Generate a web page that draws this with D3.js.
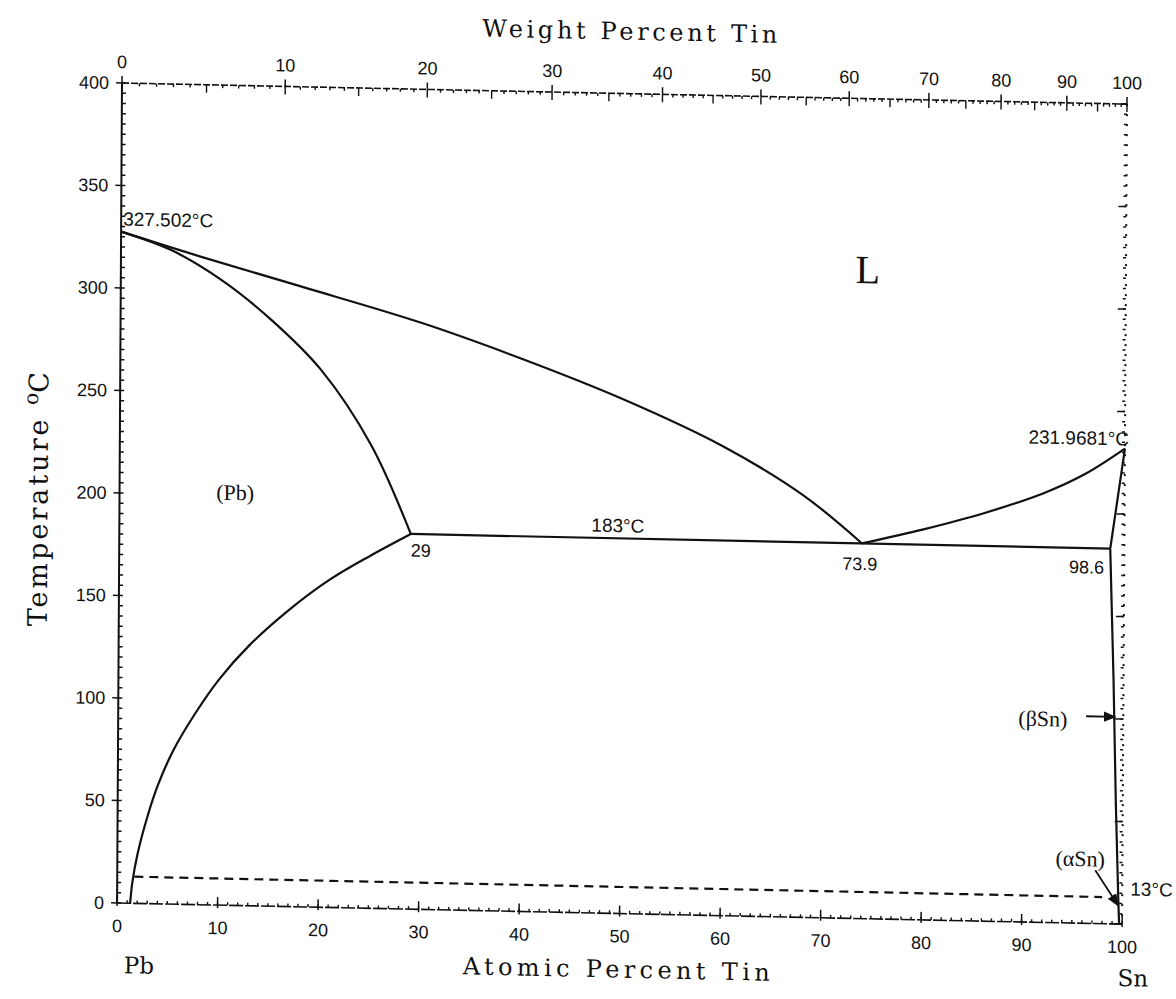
<!DOCTYPE html>
<html lang="en">
<head>
<meta charset="UTF-8">
<title>Pb-Sn Phase Diagram</title>
<script src="https://cdn.jsdelivr.net/npm/d3@7"></script>
<style>
  body { margin: 0; background: #fff; }
  svg { display: block; }
  .tick-label { font-family: "Liberation Sans", Arial, sans-serif; font-size: 18px; fill: #111; }
  .note { font-family: "Liberation Sans", Arial, sans-serif; font-size: 19px; fill: #111; }
  .serif { font-family: "Liberation Serif", "DejaVu Serif", serif; fill: #111; }
  .title { font-family: "DejaVu Serif", "Liberation Serif", serif; fill: #111; }
  .curve { fill: none; stroke: #111; stroke-width: 2.2; }
</style>
</head>
<body>
<svg id="chart" width="1176" height="999"></svg>
<script>
// phase boundaries, [atomic % Sn, temperature °C]
const liquidusPb = [[0, 327.502], [8, 316], [18, 302.5], [30, 286], [40, 269.5], [50, 251], [60, 229], [68, 206], [73.9, 183]];
const solidusPb = [[0, 327.502], [5, 319], [10, 305], [15, 286], [20, 262], [25, 226], [29, 183]];
const solvusPb = [[29, 183], [25, 172], [21, 160], [17, 145], [13, 127], [10, 110], [7.5, 92], [5.5, 75], [4, 58], [3, 43], [2, 24], [1.5, 10], [1.3, 0]];
const liquidusSn = [[73.9, 183], [80, 190.5], [86, 199], [92, 209.5], [96, 219], [100, 231.9681]];
const solidusSn = [[100, 231.9681], [98.6, 183]];
const solvusSn = [[98.6, 183], [99.0, 120], [99.3, 60], [99.6, 13], [99.7, 0]];
const eutectic = [[29, 183], [98.6, 183]];
const allotropic = [[1.7, 13], [98, 13]];

// axis ticks
const tempTicks = d3.range(0, 401, 50);
const tempMinor = d3.range(0, 401, 5);
const atomicTicks = d3.range(0, 101, 10);
const atomicMinor = d3.range(0, 101, 1);
const weightTicks = d3.range(0, 101, 10);
const weightMinor = d3.range(0, 101, 1);

const massPb = 207.2, massSn = 118.71;
function wtToAt(w) {
    const s = w / massSn, p = (100 - w) / massPb;
    return 100 * s / (s + p);
}

const W = 1005, H = 820;
const svg = d3.select("#chart");
svg.append("rect").attr("width", 1176).attr("height", 999).attr("fill", "#fff");

// the scanned figure is slightly skewed
const g = svg.append("g").attr("transform", "matrix(1,0.021,-0.006,1,122,83)");

const x = d3.scaleLinear().domain([0, 100]).range([0, W]);
const y = d3.scaleLinear().domain([0, 400]).range([H, 0]);

const defs = svg.append("defs");
defs.append("marker").attr("id", "arrow").attr("viewBox", "0 0 10 10")
    .attr("refX", 9).attr("refY", 5).attr("markerWidth", 7).attr("markerHeight", 7)
    .attr("orient", "auto")
    .append("path").attr("d", "M0,1 L10,5 L0,9 Z").attr("fill", "#111");

// frame
g.append("line").attr("x1", 0).attr("x2", 0).attr("y1", 0).attr("y2", H)
    .attr("stroke", "#111").attr("stroke-width", 2);
g.append("line").attr("x1", 0).attr("x2", W).attr("y1", H).attr("y2", H)
    .attr("stroke", "#111").attr("stroke-width", 1.6).attr("stroke-dasharray", "14,2");
g.append("line").attr("x1", 0).attr("x2", W).attr("y1", 0).attr("y2", 0)
    .attr("stroke", "#111").attr("stroke-width", 1.6).attr("stroke-dasharray", "7,2");
g.append("line").attr("x1", W).attr("x2", W).attr("y1", 0).attr("y2", H)
    .attr("stroke", "#111").attr("stroke-width", 2).attr("stroke-dasharray", "2,8");

// left axis
g.selectAll("line.lminor").data(tempMinor).join("line").attr("class", "lminor")
    .attr("x1", 0).attr("x2", 4).attr("y1", d => y(d)).attr("y2", d => y(d))
    .attr("stroke", "#111").attr("stroke-width", 1.5);
g.selectAll("line.lmajor").data(tempTicks).join("line").attr("class", "lmajor")
    .attr("x1", -6).attr("x2", 0).attr("y1", d => y(d)).attr("y2", d => y(d))
    .attr("stroke", "#111").attr("stroke-width", 1.5);
g.selectAll("text.ylab").data(tempTicks).join("text").attr("class", "ylab tick-label")
    .attr("x", -13).attr("y", d => y(d)).attr("dy", "0.35em").attr("text-anchor", "end")
    .text(d => d);

// right axis
g.selectAll("line.rminor").data(tempMinor).join("line").attr("class", "rminor")
    .attr("x1", W - 3).attr("x2", W).attr("y1", d => y(d)).attr("y2", d => y(d))
    .attr("stroke", "#111").attr("stroke-width", 1.5);
g.selectAll("line.rmajor").data(tempTicks).join("line").attr("class", "rmajor")
    .attr("x1", W - 8).attr("x2", W).attr("y1", d => y(d)).attr("y2", d => y(d))
    .attr("stroke", "#111").attr("stroke-width", 1.5);

// bottom axis (atomic percent)
g.selectAll("line.bminor").data(atomicMinor).join("line").attr("class", "bminor")
    .attr("x1", d => x(d)).attr("x2", d => x(d)).attr("y1", H).attr("y2", H - 3)
    .attr("stroke", "#111").attr("stroke-width", 1.4);
g.selectAll("line.bmajor").data(atomicTicks).join("line").attr("class", "bmajor")
    .attr("x1", d => x(d)).attr("x2", d => x(d)).attr("y1", H + 3).attr("y2", H - 8)
    .attr("stroke", "#111").attr("stroke-width", 1.5);
g.selectAll("text.xlab").data(atomicTicks).join("text").attr("class", "xlab tick-label")
    .attr("x", d => x(d)).attr("y", H + 29).attr("text-anchor", "middle")
    .text(d => d);

// top axis (weight percent)
g.selectAll("line.tminor").data(weightMinor).join("line").attr("class", "tminor")
    .attr("x1", d => x(wtToAt(d))).attr("x2", d => x(wtToAt(d)))
    .attr("y1", 0).attr("y2", d => d % 5 === 0 ? 8 : 3)
    .attr("stroke", "#111").attr("stroke-width", 1.4);
g.selectAll("line.tmajor").data(weightTicks).join("line").attr("class", "tmajor")
    .attr("x1", d => x(wtToAt(d))).attr("x2", d => x(wtToAt(d))).attr("y1", -7).attr("y2", 0)
    .attr("stroke", "#111").attr("stroke-width", 1.5);
g.selectAll("text.wlab").data(weightTicks).join("text").attr("class", "wlab tick-label")
    .attr("x", d => x(wtToAt(d))).attr("y", -15).attr("text-anchor", "middle")
    .text(d => d);

// phase boundaries
const line = d3.line().x(d => x(d[0])).y(d => y(d[1]));
const smooth = d3.line().x(d => x(d[0])).y(d => y(d[1])).curve(d3.curveCatmullRom);
[liquidusPb, solidusPb, solvusPb, liquidusSn].forEach(function(c) {
    g.append("path").attr("class", "curve").attr("d", smooth(c));
});
[solidusSn, solvusSn, eutectic].forEach(function(c) {
    g.append("path").attr("class", "curve").attr("d", line(c));
});
g.append("path").attr("class", "curve").attr("stroke-dasharray", "9,6")
    .attr("stroke-width", 1.8).attr("d", line(allotropic));

// annotations
function note(text, at, t, anchor, cls, size) {
    return g.append("text").attr("class", cls).attr("x", x(at)).attr("y", y(t))
        .attr("text-anchor", anchor).style("font-size", size + "px").text(text);
}
note("327.502°C", 0.2, 330.5, "start", "note", 19);
note("231.9681°C", 100.4, 233.5, "end", "note", 19);
note("183°C", 49.6, 186, "middle", "note", 19);
note("29", 29.0, 172, "start", "note", 18);
note("73.9", 73.7, 170, "middle", "note", 18);
note("98.6", 98.0, 170.7, "end", "note", 18);
note("13°C", 100.8, 14, "start", "note", 19);
note("L", 74.3, 310, "middle", "serif", 40);
note("(Pb)", 11.5, 197.8, "middle", "serif", 22);
note("(βSn)", 92, 95.8, "middle", "serif", 22);
note("(αSn)", 95.8, 27.8, "middle", "serif", 22);

g.append("line").attr("x1", x(96.3)).attr("y1", y(101)).attr("x2", x(99.2)).attr("y2", y(101))
    .attr("stroke", "#111").attr("stroke-width", 1.8).attr("marker-end", "url(#arrow)");
g.append("line").attr("x1", x(97.3)).attr("y1", y(26)).attr("x2", x(99.6)).attr("y2", y(9))
    .attr("stroke", "#111").attr("stroke-width", 1.8).attr("marker-end", "url(#arrow)");

// element names and axis titles
g.append("text").attr("class", "title").attr("x", x(2.2)).attr("y", H + 70)
    .attr("text-anchor", "middle").style("font-size", "23px").text("Pb");
g.append("text").attr("class", "title").attr("x", x(101.1)).attr("y", H + 62)
    .attr("text-anchor", "middle").style("font-size", "23px").text("Sn");
g.append("text").attr("class", "title").attr("x", x(49.7)).attr("y", H + 64)
    .attr("text-anchor", "middle").style("font-size", "24px")
    .attr("textLength", 307).attr("lengthAdjust", "spacing").text("Atomic Percent Tin");
g.append("text").attr("class", "title").attr("x", x(50.5)).attr("y", -54)
    .attr("text-anchor", "middle").style("font-size", "24px")
    .attr("textLength", 295).attr("lengthAdjust", "spacing").text("Weight Percent Tin");

const ytitle = g.append("text").attr("class", "title")
    .attr("transform", `translate(${x(0) - 72},${y(200) + 8}) rotate(-90)`)
    .attr("text-anchor", "middle").style("font-size", "27px");
ytitle.append("tspan").attr("letter-spacing", "3px").text("Temperature ");
ytitle.append("tspan").attr("dy", -10).style("font-size", "20px").text("o");
ytitle.append("tspan").attr("dy", 10).text("C");
</script>
</body>
</html>
